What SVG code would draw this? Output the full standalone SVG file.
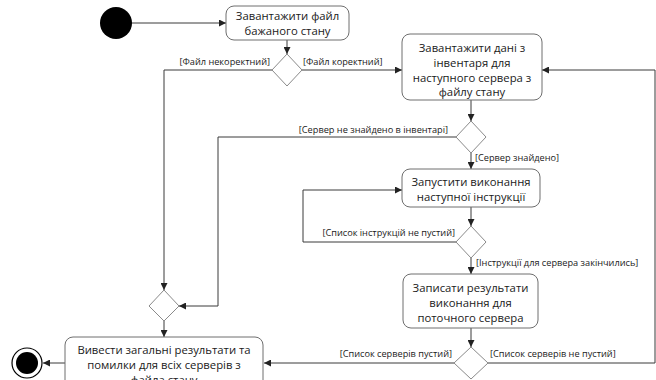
<svg xmlns="http://www.w3.org/2000/svg" width="656" height="380" viewBox="0 0 656 380">
  <defs>
    <marker id="arrow" viewBox="0 0 8 8" refX="8" refY="4" markerWidth="7" markerHeight="7" markerUnits="userSpaceOnUse" orient="auto">
      <path d="M0,0 L8,4 L0,8 Z" fill="#222"/>
    </marker>
    <style>
      .action { fill: #ffffff; stroke: #6e6e6e; stroke-width: 1; }
      .decision { fill: #ffffff; stroke: #8a8a8a; stroke-width: 1; }
      .flow { fill: none; stroke: #3a3a3a; stroke-width: 1; }
      .arrowed { marker-end: url(#arrow); }
      .node-text { font-family: "Open Sans", "Noto Sans", sans-serif; font-size: 11.3px; fill: #1a1a1a; text-anchor: middle; }
      .guard { font-family: "Open Sans", "Noto Sans", sans-serif; font-size: 9.2px; fill: #1a1a1a; }
      .end { text-anchor: end; }
    </style>
  </defs>
  <rect width="656" height="380" fill="#ffffff"/>

  <!-- connectors -->
  <g id="connectors">
    <line class="flow arrowed" x1="132" y1="23" x2="226" y2="23"/>
    <line class="flow arrowed" x1="287" y1="40" x2="287" y2="54"/>
    <polyline class="flow arrowed" points="272,70 164,70 164,290"/>
    <line class="flow arrowed" x1="302" y1="70" x2="402" y2="70"/>
    <line class="flow arrowed" x1="471" y1="100" x2="471" y2="121"/>
    <polyline class="flow arrowed" points="456,137 218,137 218,306 179,306"/>
    <line class="flow arrowed" x1="471" y1="153" x2="471" y2="169"/>
    <line class="flow arrowed" x1="471" y1="207" x2="471" y2="226"/>
    <polyline class="flow arrowed" points="456,242 303,242 303,190 402,190"/>
    <line class="flow arrowed" x1="471" y1="258" x2="471" y2="274"/>
    <line class="flow arrowed" x1="471" y1="328" x2="471" y2="347"/>
    <line class="flow arrowed" x1="454" y1="363" x2="264" y2="363"/>
    <polyline class="flow arrowed" points="488,363 655,363 655,70 542,70"/>
    <line class="flow arrowed" x1="164" y1="321" x2="164" y2="337"/>
    <line class="flow arrowed" x1="65" y1="363" x2="43" y2="363"/>

    <text class="guard end" x="270" y="65">[Файл некоректний]</text>
    <text class="guard" x="303" y="65">[Файл коректний]</text>
    <text class="guard end" x="448" y="133">[Сервер не знайдено в інвентарі]</text>
    <text class="guard" x="475" y="161">[Сервер знайдено]</text>
    <text class="guard end" x="455" y="236">[Список інструкцій не пустий]</text>
    <text class="guard" x="476" y="266">[Інструкції для сервера закінчились]</text>
    <text class="guard end" x="452" y="357">[Список серверів пустий]</text>
    <text class="guard" x="490" y="357">[Список серверів не пустий]</text>
  </g>

  <g id="start">
    <circle cx="116" cy="23" r="16" fill="#000000"/>
  </g>

  <g id="load-state-file">
    <rect class="action" x="226" y="6" width="123" height="34" rx="8"/>
    <text class="node-text" x="287.5" y="20">Завантажити файл</text>
    <text class="node-text" x="287.5" y="35">бажаного стану</text>
  </g>

  <g id="file-check">
    <polygon class="decision" points="287,54 302,70 287,86 272,70"/>
  </g>

  <g id="load-inventory">
    <rect class="action" x="402" y="34" width="140" height="66" rx="8"/>
    <text class="node-text" x="472" y="52">Завантажити дані з</text>
    <text class="node-text" x="472" y="67">інвентаря для</text>
    <text class="node-text" x="472" y="82">наступного сервера з</text>
    <text class="node-text" x="472" y="96">файлу стану</text>
  </g>

  <g id="server-check">
    <polygon class="decision" points="471,121 486,137 471,153 456,137"/>
  </g>

  <g id="run-instruction">
    <rect class="action" x="402" y="169" width="138" height="38" rx="8"/>
    <text class="node-text" x="471" y="186">Запустити виконання</text>
    <text class="node-text" x="471" y="201">наступної інструкції</text>
  </g>

  <g id="instruction-check">
    <polygon class="decision" points="471,226 486,242 471,258 456,242"/>
  </g>

  <g id="save-results">
    <rect class="action" x="403" y="274" width="135" height="54" rx="8"/>
    <text class="node-text" x="470.5" y="292">Записати результати</text>
    <text class="node-text" x="470.5" y="307">виконання для</text>
    <text class="node-text" x="470.5" y="322">поточного сервера</text>
  </g>

  <g id="servers-check">
    <polygon class="decision" points="471,347 488,363 471,379 454,363"/>
  </g>

  <g id="merge">
    <polygon class="decision" points="164,290 179,306 164,321 149,306"/>
  </g>

  <g id="print-summary">
    <rect class="action" x="65" y="337" width="198" height="60" rx="8"/>
    <text class="node-text" x="164" y="354">Вивести загальні результати та</text>
    <text class="node-text" x="164" y="369">помилки для всіх серверів з</text>
    <text class="node-text" x="164" y="384">файла стану</text>
  </g>

  <g id="final">
    <circle cx="27" cy="363" r="15" fill="#ffffff" stroke="#000000" stroke-width="1.2"/>
    <circle cx="27" cy="363" r="11" fill="#000000"/>
  </g>
</svg>
